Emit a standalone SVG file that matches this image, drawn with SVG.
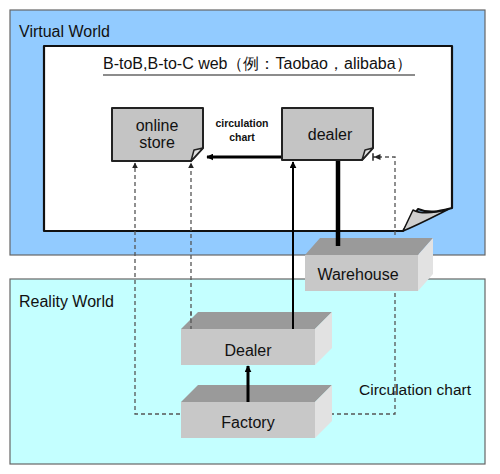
<svg xmlns="http://www.w3.org/2000/svg" width="500" height="474" viewBox="0 0 500 474">
<defs>
<style>
text{font-family:"Liberation Sans",Arial,sans-serif;fill:#111;}
.lbl{font-size:16px;}
.node{font-size:16px;text-anchor:middle;}
.doc{fill:#c4c4c4;stroke:#222;stroke-width:2;stroke-linejoin:round;}
.fold{fill:#e0e0e0;stroke:#222;stroke-width:1.5;stroke-linejoin:round;}
.top{fill:#9a9a9a;}
.front{fill:#c8c8c8;}
.side{fill:#e2e2e2;}
.dash{fill:none;stroke:#555;stroke-width:1.3;stroke-dasharray:4,3;}
.solid{fill:none;stroke:#000;}
</style>
<marker id="ah" viewBox="0 0 10 10" refX="9" refY="5" markerWidth="7" markerHeight="7" markerUnits="userSpaceOnUse" orient="auto">
<path d="M0,0 L10,5 L0,10 Z" fill="#000"/>
</marker>
<marker id="ahs" viewBox="0 0 10 10" refX="9" refY="5" markerWidth="6" markerHeight="6" markerUnits="userSpaceOnUse" orient="auto">
<path d="M0,0 L10,5 L0,10 Z" fill="#222"/>
</marker>
<marker id="ahb" viewBox="0 0 12 10" refX="11" refY="5" markerWidth="9" markerHeight="8" markerUnits="userSpaceOnUse" orient="auto">
<path d="M1,1 L10,5 L1,9 Z" fill="#222"/>
<path d="M11,0 V10" stroke="#222" stroke-width="2"/>
</marker>
</defs>

<g id="virtual-world">
<rect x="10" y="10" width="475" height="245" fill="#92cbff" stroke="#666" stroke-width="1.2"/>
<text class="lbl" x="19" y="37">Virtual World</text>
</g>

<g id="reality-world">
<rect x="10" y="279" width="475" height="185" fill="#c4ffff" stroke="#666" stroke-width="1.2"/>
<text class="lbl" x="19" y="307">Reality World</text>
</g>

<g id="web-page">
<path d="M44,46 H452 V208 C440,211 430,214 418,209 L403,231 H44 Z" fill="#fff" stroke="#111" stroke-width="2.2" stroke-linejoin="round"/>
<path d="M403,231 L413,210 C422,215 435,213 449,209 C435,216 420,224 403,231 Z" fill="#cfcfcf" stroke="#111" stroke-width="1.5" stroke-linejoin="round"/>
<text x="103" y="69" style="font-size:16px">B-toB,B-to-C web（例：Taobao，alibaba）</text>
<line x1="103" y1="75" x2="415" y2="75" stroke="#666" stroke-width="1.5"/>
</g>

<g id="connectors">
<line class="solid" x1="282" y1="157" x2="207" y2="157" stroke-width="3" marker-end="url(#ah)"/>
<line class="solid" x1="293" y1="327" x2="293" y2="162" stroke-width="2" marker-end="url(#ah)"/>
<line class="solid" x1="338" y1="160" x2="338" y2="244" stroke-width="4.5"/>
<line class="solid" x1="248" y1="401" x2="248" y2="366" stroke-width="3" marker-end="url(#ah)"/>
<path class="dash" d="M180,414 H135 V163" marker-end="url(#ahs)"/>
<path class="dash" d="M191,329 V163" marker-end="url(#ahs)"/>
<path class="dash" d="M395,242 V157 H373" marker-end="url(#ahb)"/>
<path class="dash" d="M316,414 H395 V291"/>
</g>

<g id="online-store">
<path class="doc" d="M112,108 H203 V148 L191,161 H112 Z"/>
<path class="fold" d="M191,161 L194,150 L203,148 Z"/>
<text class="node" x="157" y="131">online</text>
<text class="node" x="157" y="148">store</text>
</g>

<g id="dealer-web">
<path class="doc" d="M282,108 H373 V148 L362,160 H282 Z"/>
<path class="fold" d="M362,160 L365,150 L373,148 Z"/>
<text class="node" x="330" y="140">dealer</text>
</g>

<g id="circulation-label">
<text x="242" y="127" style="font-size:10.5px;font-weight:bold;text-anchor:middle">circulation</text>
<text x="242" y="141" style="font-size:10.5px;font-weight:bold;text-anchor:middle">chart</text>
</g>

<g id="warehouse">
<polygon class="top" points="320,238 433,238 418,255 305,255"/>
<polygon class="side" points="418,255 433,238 433,274 418,291"/>
<rect class="front" x="305" y="255" width="113" height="36"/>
<line x1="338" y1="238" x2="338" y2="246" stroke="#000" stroke-width="4.5"/>
<text class="node" x="358" y="280">Warehouse</text>
</g>

<g id="dealer">
<polygon class="top" points="198,312 332,312 315,329 181,329"/>
<polygon class="side" points="315,329 332,312 332,348 315,365"/>
<rect class="front" x="181" y="329" width="134" height="36"/>
<line x1="293" y1="312" x2="293" y2="329" stroke="#000" stroke-width="2"/>
<line x1="191" y1="312" x2="191" y2="329" class="dash"/>
<text class="node" x="248" y="356">Dealer</text>
</g>

<g id="factory">
<polygon class="top" points="198,385 332,385 315,402 181,402"/>
<polygon class="side" points="315,402 332,385 332,421 315,438"/>
<rect class="front" x="181" y="402" width="134" height="36"/>
<line x1="248" y1="385" x2="248" y2="402" stroke="#000" stroke-width="3"/>
<text class="node" x="248" y="428">Factory</text>
</g>

<g id="circulation-chart-label">
<text x="359" y="395" style="font-size:15.5px">Circulation chart</text>
</g>
</svg>
